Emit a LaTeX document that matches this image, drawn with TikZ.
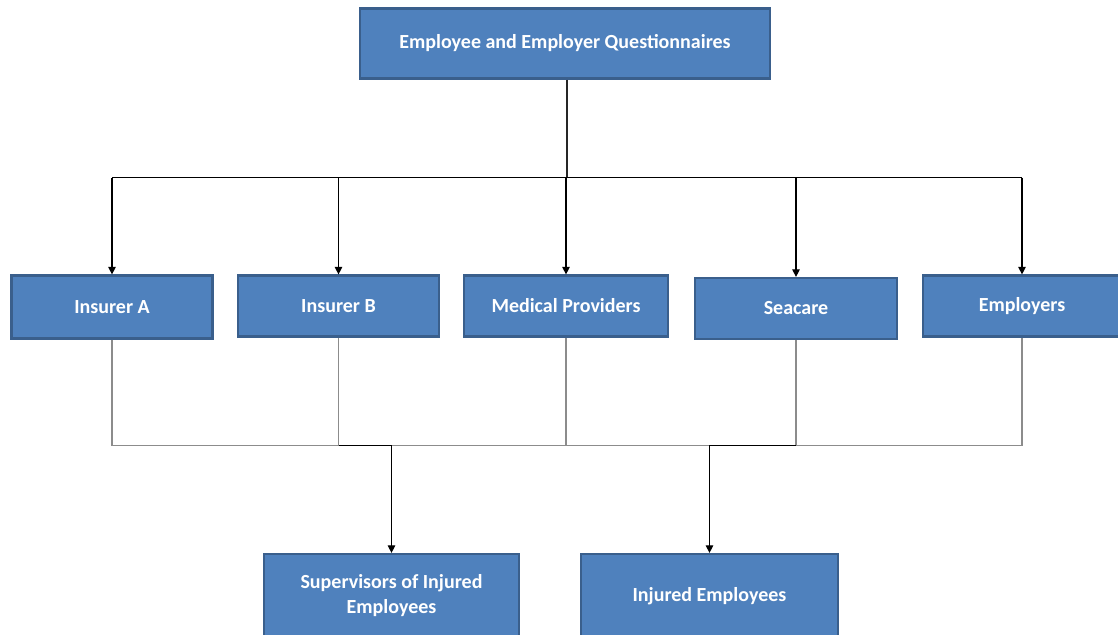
\documentclass[tikz,border=0pt]{standalone}
\usepackage{fontspec}
\setmainfont{Carlito}
\usetikzlibrary{arrows.meta}
\definecolor{boxfill}{HTML}{4F81BD}
\definecolor{boxedge}{HTML}{3A5F8C}
\definecolor{busgray}{HTML}{8C8C8C}
\tikzset{
  unit/.style={draw=boxedge, line width=2.2pt, fill=boxfill, text=white,
    font=\fontsize{20}{25}\selectfont\bfseries, align=center, inner sep=0pt},
  feed/.style={draw=black, line width=1.1pt},
  trunk/.style={draw=black!85, line width=2.2pt},
  collect/.style={draw=busgray, line width=1.4pt},
  arr/.style={-{Triangle[width=7.5pt,length=7.5pt]}}
}
\begin{document}
\begin{tikzpicture}[x=1pt,y=-1pt]
\useasboundingbox (0,0) rectangle (1118,634);

% source box
\node[unit, minimum width=410, minimum height=70] (top) at (565,43.5) {Employee and Employer Questionnaires};

% middle row
\node[unit, minimum width=201, minimum height=63] (insA) at (112,307) {Insurer A};
\node[unit, minimum width=201, minimum height=61] (insB) at (338.5,306) {Insurer B};
\node[unit, minimum width=204, minimum height=61] (med) at (566,306) {Medical Providers};
\node[unit, minimum width=202, minimum height=61] (sea) at (796,308.5) {Seacare};
\node[unit, minimum width=198, minimum height=61] (emp) at (1022,306) {Employers};

% bottom row
\node[unit, minimum width=255, minimum height=84] (sup) at (391.5,596) {Supervisors of Injured\\Employees};
\node[unit, minimum width=257, minimum height=84] (inj) at (709.5,596) {Injured Employees};

% distribution bus
\coordinate (tbus) at (567,177.5);
\coordinate (bbus) at (567,445.5);

\draw[trunk] (tbus |- top.south) -- (tbus);
\draw[feed] (insA |- tbus) -- (emp |- tbus);
\foreach \n in {insA,insB,med,sea,emp}
  \draw[feed,arr] (\n |- tbus) -- (\n.north);

% collection bus
\draw[collect] (insA.south) -- (insA.south |- bbus) -- (emp.south |- bbus) -- (emp.south);
\foreach \n in {insB,med,sea}
  \draw[collect] (\n.south) -- (\n.south |- bbus);

\draw[feed,arr] (insB.south |- bbus) -- (sup |- bbus) -- (sup.north);
\draw[feed,arr] (sea.south |- bbus) -- (inj |- bbus) -- (inj.north);
\end{tikzpicture}
\end{document}
